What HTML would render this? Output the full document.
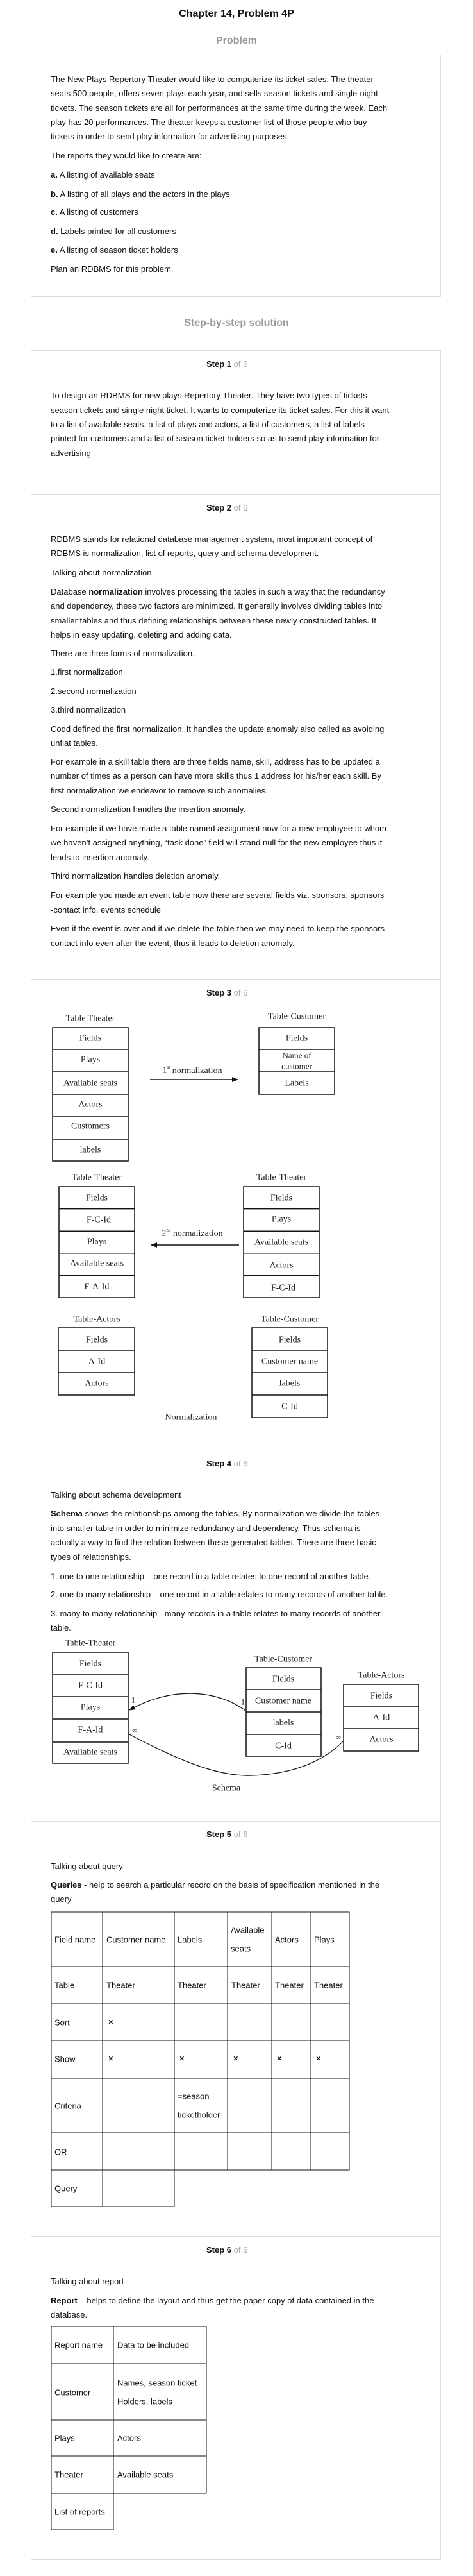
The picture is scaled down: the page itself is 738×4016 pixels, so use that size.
<!DOCTYPE html>
<html><head><meta charset="utf-8"><style>
*{margin:0;padding:0;box-sizing:border-box}
body{width:738px;height:4016px;position:relative;background:#fff;font-family:"Liberation Sans",Arial,sans-serif;color:#111;overflow:hidden}
.t{position:absolute;left:79px;font-size:13px;white-space:nowrap;line-height:22.4px}
.h{position:absolute;left:0;width:738px;text-align:center;font-weight:bold;font-size:16px;line-height:20px}
.s{position:absolute;left:322px;font-size:13px;line-height:16px;font-weight:bold;white-space:nowrap}
.s span{color:#aaa;font-weight:normal}
.box{position:absolute;left:48px;width:640px;border:1px solid #ddd}
.dv{position:absolute;left:48px;width:640px;height:1px;background:#ddd}
b{font-weight:bold}
svg{position:absolute;left:0;top:0}
</style></head><body>
<div class="h" style="top:12px;color:#111">Chapter 14, Problem 4P</div>
<div class="h" style="top:54px;color:#999">Problem</div>
<div class="box" style="top:85px;height:378px"></div>
<div class="t" style="top:112.8px">The New Plays Repertory Theater would like to computerize its ticket sales. The theater<br>seats 500 people, offers seven plays each year, and sells season tickets and single-night<br>tickets. The season tickets are all for performances at the same time during the week. Each<br>play has 20 performances. The theater keeps a customer list of those people who buy<br>tickets in order to send play information for advertising purposes.</div>
<div class="t" style="top:232px">The reports they would like to create are:</div>
<div class="t" style="top:262px"><b>a.</b> A listing of available seats</div>
<div class="t" style="top:292px"><b>b.</b> A listing of all plays and the actors in the plays</div>
<div class="t" style="top:320px"><b>c.</b> A listing of customers</div>
<div class="t" style="top:350px"><b>d.</b> Labels printed for all customers</div>
<div class="t" style="top:379px"><b>e.</b> A listing of season ticket holders</div>
<div class="t" style="top:409px">Plan an RDBMS for this problem.</div>

<div class="h" style="top:494px;color:#999">Step-by-step solution</div>
<div class="box" style="top:546px;height:3445px"></div>
<div class="dv" style="top:770px"></div>
<div class="dv" style="top:1527px"></div>
<div class="dv" style="top:2260px"></div>
<div class="dv" style="top:2839px"></div>
<div class="dv" style="top:3486px"></div>

<div class="s" style="top:560px">Step 1 <span>of 6</span></div>
<div class="t" style="top:606.4px;line-height:22.3px">To design an RDBMS for new plays Repertory Theater. They have two types of tickets –<br>season tickets and single night ticket. It wants to computerize its ticket sales. For this it want<br>to a list of available seats, a list of plays and actors, a list of customers, a list of labels<br>printed for customers and a list of season ticket holders so as to send play information for<br>advertising</div>

<div class="s" style="top:784px">Step 2 <span>of 6</span></div>
<div class="t" style="top:830px">RDBMS stands for relational database management system, most important concept of<br>RDBMS is normalization, list of reports, query and schema development.</div>
<div class="t" style="top:882px">Talking about normalization</div>
<div class="t" style="top:912px">Database <b>normalization</b> involves processing the tables in such a way that the redundancy<br>and dependency, these two factors are minimized. It generally involves dividing tables into<br>smaller tables and thus defining relationships between these newly constructed tables. It<br>helps in easy updating, deleting and adding data.</div>
<div class="t" style="top:1008px">There are three forms of normalization.</div>
<div class="t" style="top:1037px">1.first normalization</div>
<div class="t" style="top:1067px">2.second normalization</div>
<div class="t" style="top:1096px">3.third normalization</div>
<div class="t" style="top:1126px">Codd defined the first normalization. It handles the update anomaly also called as avoiding<br>unflat tables.</div>
<div class="t" style="top:1176.8px;line-height:22.5px">For example in a skill table there are three fields name, skill, address has to be updated a<br>number of times as a person can have more skills thus 1 address for his/her each skill. By<br>first normalization we endeavor to remove such anomalies.</div>
<div class="t" style="top:1251px">Second normalization handles the insertion anomaly.</div>
<div class="t" style="top:1280.8px;line-height:22.5px">For example if we have made a table named assignment now for a new employee to whom<br>we haven’t assigned anything, “task done” field will stand null for the new employee thus it<br>leads to insertion anomaly.</div>
<div class="t" style="top:1355px">Third normalization handles deletion anomaly.</div>
<div class="t" style="top:1383.5px;line-height:23px">For example you made an event table now there are several fields viz. sponsors, sponsors<br>-contact info, events schedule</div>
<div class="t" style="top:1435.5px;line-height:23px">Even if the event is over and if we delete the table then we may need to keep the sponsors<br>contact info even after the event, thus it leads to deletion anomaly.</div>

<div class="s" style="top:1540px">Step 3 <span>of 6</span></div>

<div class="s" style="top:2274px">Step 4 <span>of 6</span></div>
<div class="t" style="top:2320px">Talking about schema development</div>
<div class="t" style="top:2349px;line-height:22.7px"><b>Schema</b> shows the relationships among the tables. By normalization we divide the tables<br>into smaller table in order to minimize redundancy and dependency. Thus schema is<br>actually a way to find the relation between these generated tables. There are three basic<br>types of relationships.</div>
<div class="t" style="top:2447px">1. one to one relationship – one record in a table relates to one record of another table.</div>
<div class="t" style="top:2475px">2. one to many relationship – one record in a table relates to many records of another table.</div>
<div class="t" style="top:2505px">3. many to many relationship - many records in a table relates to many records of another<br>table.</div>

<div class="s" style="top:2852px">Step 5 <span>of 6</span></div>
<div class="t" style="top:2899px">Talking about query</div>
<div class="t" style="top:2928px"><b>Queries</b> - help to search a particular record on the basis of specification mentioned in the<br>query</div>

<div class="s" style="top:3500px">Step 6 <span>of 6</span></div>
<div class="t" style="top:3546px">Talking about report</div>
<div class="t" style="top:3576px"><b>Report</b> – helps to define the layout and thus get the paper copy of data contained in the<br>database.</div>

<svg width="738" height="4016" viewBox="0 0 738 4016" xmlns="http://www.w3.org/2000/svg">
<defs>
<marker id="ah" markerWidth="10" markerHeight="8" refX="9" refY="4" orient="auto" markerUnits="userSpaceOnUse"><path d="M0,0 L10,4 L0,8 z" fill="#111"/></marker>
</defs>
<g font-family="'Liberation Serif',serif" font-size="14" fill="#222" text-anchor="middle" dominant-baseline="central">
<!-- Step 3 -->
<text x="141" y="1588">Table Theater</text>
<g fill="none" stroke="#111" stroke-width="1.5">
<rect x="82" y="1602" width="118" height="208"/>
<path d="M82 1636H200M82 1671H200M82 1706H200M82 1741H200M82 1776H200"/>
<rect x="404" y="1602" width="118" height="104"/>
<path d="M404 1636H522M404 1671H522"/>
<rect x="92" y="1850" width="118" height="173"/>
<path d="M92 1884.6H210M92 1919.2H210M92 1953.8H210M92 1988.4H210"/>
<rect x="380" y="1850" width="118" height="173"/>
<path d="M380 1884.6H498M380 1919.2H498M380 1953.8H498M380 1988.4H498"/>
<rect x="91" y="2070" width="119" height="105"/>
<path d="M91 2105H210M91 2140H210"/>
<rect x="393" y="2070" width="118" height="140"/>
<path d="M393 2105H511M393 2140H511M393 2175H511"/>
<path d="M234 1683H371" marker-end="url(#ah)"/>
<path d="M373 1941H236" marker-end="url(#ah)"/>
</g>
<text x="141" y="1619">Fields</text><text x="141" y="1652">Plays</text><text x="141" y="1689">Available seats</text><text x="141" y="1722">Actors</text><text x="141" y="1756">Customers</text><text x="141" y="1793">labels</text>
<text x="463" y="1585">Table-Customer</text>
<text x="463" y="1619">Fields</text><text x="463" y="1645" font-size="13">Name of</text><text x="463" y="1662" font-size="13">customer</text><text x="463" y="1689">Labels</text>
<text x="300" y="1669">1<tspan font-size="7" dy="-5">st</tspan><tspan dy="5"> normalization</tspan></text>
<text x="151" y="1836">Table-Theater</text>
<text x="151" y="1868">Fields</text><text x="154" y="1902">F-C-Id</text><text x="151" y="1936">Plays</text><text x="151" y="1970">Available seats</text><text x="151" y="2006">F-A-Id</text>
<text x="439" y="1836">Table-Theater</text>
<text x="439" y="1868">Fields</text><text x="439" y="1901">Plays</text><text x="439" y="1937">Available seats</text><text x="439" y="1973">Actors</text><text x="442" y="2008">F-C-Id</text>
<text x="300" y="1923">2<tspan font-size="7" dy="-5">nd</tspan><tspan dy="5"> normalization</tspan></text>
<text x="151" y="2057">Table-Actors</text>
<text x="151" y="2089">Fields</text><text x="151" y="2123">A-Id</text><text x="151" y="2157">Actors</text>
<text x="452" y="2057">Table-Customer</text>
<text x="452" y="2089">Fields</text><text x="452" y="2123">Customer name</text><text x="452" y="2157">labels</text><text x="452" y="2193">C-Id</text>
<text x="298" y="2210">Normalization</text>

<!-- Step 4 schema -->
<g fill="none" stroke="#111" stroke-width="1.5">
<rect x="82" y="2576" width="118" height="173"/>
<path d="M82 2611H200M82 2645H200M82 2680H200M82 2716H200"/>
<rect x="384" y="2600" width="117" height="138"/>
<path d="M384 2634H501M384 2669H501M384 2704H501"/>
<rect x="536" y="2626" width="117" height="104"/>
<path d="M536 2661H653M536 2695H653"/>
<path d="M383 2667 C340 2635 270 2628 202 2666" stroke-width="1.2" marker-end="url(#ah)"/>
<path d="M200 2703 C280 2745 340 2770 393 2768 C450 2766 500 2750 535 2715" stroke-width="1.2"/>
</g>
<text x="141" y="2562">Table-Theater</text>
<text x="141" y="2594">Fields</text><text x="141" y="2628">F-C-Id</text><text x="141" y="2662">Plays</text><text x="141" y="2697">F-A-Id</text><text x="141" y="2732">Available seats</text>
<text x="442" y="2587">Table-Customer</text>
<text x="442" y="2618">Fields</text><text x="442" y="2652">Customer name</text><text x="442" y="2686">labels</text><text x="442" y="2722">C-Id</text>
<text x="595" y="2612">Table-Actors</text>
<text x="595" y="2644">Fields</text><text x="595" y="2678">A-Id</text><text x="595" y="2712">Actors</text>
<text x="208" y="2650" font-size="13">1</text><text x="379" y="2653" font-size="13">1</text>
<text x="210" y="2698" font-size="11">∞</text><text x="528" y="2709" font-size="11">∞</text>
<text x="353" y="2788">Schema</text>
</g>

<!-- Step 5 table -->
<g fill="none" stroke="#111" stroke-width="1">
<path d="M80 2981H545V3383H80ZM80 3066H545M80 3124H545M80 3181H545M80 3240H545M80 3325H545M160 2981V3383M272 2981V3383M355 2981V3383M424 2981V3383M484 2981V3383"/>
<path d="M80 3383V3440H272V3383M160 3383V3440"/>
</g>
<g font-family="'Liberation Sans',sans-serif" font-size="13" fill="#111" dominant-baseline="central">
<text x="85" y="3024">Field name</text><text x="166" y="3024">Customer name</text><text x="277" y="3024">Labels</text><text x="360" y="3009">Available</text><text x="360" y="3038">seats</text><text x="429" y="3024">Actors</text><text x="490" y="3024">Plays</text>
<text x="85" y="3095">Table</text><text x="166" y="3095">Theater</text><text x="277" y="3095">Theater</text><text x="361" y="3095">Theater</text><text x="429" y="3095">Theater</text><text x="490" y="3095">Theater</text>
<text x="85" y="3153">Sort</text><text x="169" y="3152" font-weight="bold">×</text>
<text x="85" y="3210">Show</text><text x="169" y="3209" font-weight="bold">×</text><text x="280" y="3209" font-weight="bold">×</text><text x="364" y="3209" font-weight="bold">×</text><text x="432" y="3209" font-weight="bold">×</text><text x="493" y="3209" font-weight="bold">×</text>
<text x="85" y="3283">Criteria</text><text x="277" y="3268">=season</text><text x="277" y="3297">ticketholder</text>
<text x="85" y="3355">OR</text>
<text x="85" y="3412">Query</text>

<!-- Step 6 table -->
<text x="85" y="3656">Report name</text><text x="183" y="3656">Data to be included</text>
<text x="85" y="3730">Customer</text><text x="183" y="3715">Names, season ticket</text><text x="183" y="3744">Holders, labels</text>
<text x="85" y="3801">Plays</text><text x="183" y="3801">Actors</text>
<text x="85" y="3858">Theater</text><text x="183" y="3858">Available seats</text>
<text x="85" y="3916">List of reports</text>
</g>
<g fill="none" stroke="#111" stroke-width="1">
<path d="M80 3627H322V3887H80ZM80 3685H322M80 3773H322M80 3829H322M177 3627V3944M80 3887V3944H177"/>
</g>
</svg>
</body></html>
